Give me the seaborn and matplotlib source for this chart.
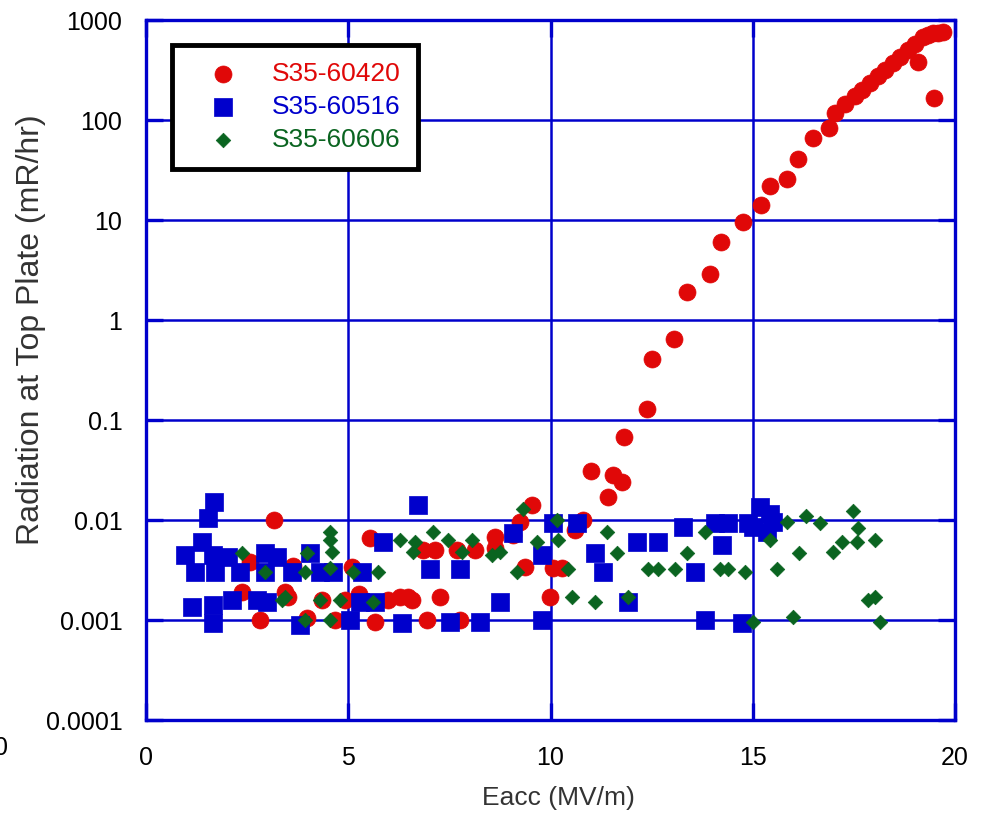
import matplotlib
matplotlib.use("Agg")
import matplotlib.pyplot as plt
from matplotlib.ticker import FixedLocator, FixedFormatter, NullLocator
import seaborn as sns
import pandas as pd

# ---- data ----
red_x = [2.57, 2.37, 2.82, 3.16, 3.44, 3.51, 3.63, 3.98, 4.35, 4.67, 4.92, 5.09, 5.27,
         5.54, 5.66, 5.98, 6.28, 6.48, 6.58, 6.95, 6.85, 7.14, 7.27, 7.69, 7.76, 8.13,
         8.63, 8.63, 9.07, 9.25, 9.37, 9.54, 9.99, 10.06, 10.28, 10.6, 10.8,
         11.00, 11.42, 11.55, 11.77, 11.82, 12.39, 12.51, 13.05, 13.37, 13.94, 14.21,
         14.76, 15.20, 15.43, 15.85, 16.12, 16.49, 16.88, 17.03, 17.28, 17.53, 17.70,
         17.90, 18.10, 18.27, 18.47, 18.64, 18.84, 19.01, 19.09, 19.21, 19.33, 19.46,
         19.48, 19.58, 19.70]
red_y = [0.0038, 0.0019, 0.001, 0.01, 0.0019, 0.0017, 0.0035, 0.00105, 0.0016, 0.001,
         0.0016, 0.0034, 0.0018, 0.0066, 0.00095, 0.0016, 0.0017, 0.0017, 0.0016, 0.001,
         0.005, 0.005, 0.0017, 0.005, 0.001, 0.005, 0.0068, 0.0052, 0.007, 0.0095,
         0.0034, 0.014, 0.0017, 0.0033, 0.0033, 0.008, 0.01,
         0.031, 0.017, 0.028, 0.024, 0.068, 0.13, 0.41, 0.65, 1.9, 2.9, 6.0,
         9.5, 14, 22, 26, 41, 66, 83, 117, 145, 174, 200,
         234, 275, 316, 372, 427, 500, 575, 380, 676, 708, 741,
         166, 741, 759]

blue_x = [0.96, 1.13, 1.21, 1.38, 1.53, 1.66, 1.66, 1.68, 1.71, 1.66, 2.03, 2.13, 2.32,
          2.74, 2.94, 2.94, 3.24, 3.00, 3.60, 3.81, 4.05, 4.30, 4.62, 5.04, 5.29, 5.34,
          5.66, 5.86, 6.33, 6.72, 7.02, 7.52, 7.76, 8.26, 8.75, 9.07, 9.79, 9.79, 10.06,
          10.66, 11.10, 11.30, 11.92, 12.14, 12.66, 13.28, 13.57, 13.82, 14.07, 14.24,
          14.39, 14.73, 14.88, 15.00, 15.18, 15.35, 15.43, 15.50]
blue_y = [0.0045, 0.00135, 0.003, 0.006, 0.0105, 0.0045, 0.0014, 0.015, 0.003, 0.00093,
          0.0043, 0.0016, 0.003, 0.0016, 0.0047, 0.003, 0.0043, 0.0015, 0.003, 0.0009,
          0.0047, 0.003, 0.003, 0.001, 0.0015, 0.003, 0.0015, 0.006, 0.00093, 0.014,
          0.0032, 0.00095, 0.0032, 0.00095, 0.0015, 0.0074, 0.0045, 0.001, 0.0093,
          0.0093, 0.0047, 0.003, 0.0015, 0.006, 0.006, 0.0085, 0.003, 0.001, 0.0093,
          0.0056, 0.0093, 0.00093, 0.0093, 0.0085, 0.0135, 0.0075, 0.0115, 0.0095]

green_x = [2.37, 2.94, 3.36, 3.44, 3.93, 3.93, 3.98, 4.30, 4.55, 4.55, 4.60, 4.55, 4.55,
           4.80, 5.12, 5.61, 5.74, 6.28, 6.60, 6.65, 7.10, 7.47, 7.81, 8.06, 8.55, 8.75,
           9.17, 9.32, 9.67, 10.16, 10.19, 10.43, 10.53, 11.10, 11.40, 11.64, 11.92,
           12.41, 12.66, 13.08, 13.37, 13.82, 14.19, 14.39, 14.81, 15.00, 15.43, 15.60,
           15.85, 16.00, 16.14, 16.32, 16.66, 16.98, 17.21, 17.48, 17.58, 17.60, 17.85,
           18.02, 18.02, 18.15]
green_y = [0.0047, 0.003, 0.0016, 0.0017, 0.003, 0.001, 0.0047, 0.0016, 0.0076, 0.0063,
           0.0048, 0.0033, 0.001, 0.0016, 0.003, 0.0015, 0.003, 0.0063, 0.0048, 0.006,
           0.0076, 0.0063, 0.0048, 0.0063, 0.0045, 0.0048, 0.003, 0.013, 0.006, 0.01,
           0.0063, 0.0032, 0.0017, 0.0015, 0.0076, 0.0047, 0.0017, 0.0032, 0.0032,
           0.0032, 0.0047, 0.0076, 0.0032, 0.0032, 0.003, 0.00095, 0.0063, 0.0032,
           0.0095, 0.00107, 0.0047, 0.011, 0.0093, 0.0048, 0.006, 0.0123, 0.006, 0.0083,
           0.0016, 0.0017, 0.0063, 0.00095]

series_names = ["S35-60420", "S35-60516", "S35-60606"]
x_ticks = [0, 5, 10, 15, 20]
y_ticks = [0.0001, 0.001, 0.01, 0.1, 1, 10, 100, 1000]
y_tick_labels = ["0.0001", "0.001", "0.01", "0.1", "1", "10", "100", "1000"]

# ---- style ----
sns.set_style("white")
plt.rcParams["font.family"] = ["Liberation Sans", "DejaVu Sans"]

RED = "#E00808"
BLUE = "#0000CC"
GREEN = "#0A6420"
GRID = "#0000CC"

fig = plt.figure(figsize=(9.85, 8.19), dpi=100)
ax = fig.add_axes([146 / 985, 1 - 720 / 819, 809 / 985, 700 / 819])

sns.scatterplot(x=red_x, y=red_y, ax=ax, marker="o", s=150, color=RED,
                edgecolor=RED, linewidth=0.5, label=series_names[0], zorder=3)
sns.scatterplot(x=blue_x, y=blue_y, ax=ax, marker="s", s=165, color=BLUE,
                edgecolor=BLUE, linewidth=0.5, label=series_names[1], zorder=4)
sns.scatterplot(x=green_x, y=green_y, ax=ax, marker="D", s=55, color=GREEN,
                edgecolor=GREEN, linewidth=0.5, label=series_names[2], zorder=5)

ax.set_yscale("log")
ax.set_xlim(0, 20)
ax.set_ylim(0.0001, 1000)
ax.xaxis.set_major_locator(FixedLocator(x_ticks))
ax.yaxis.set_major_locator(FixedLocator(y_ticks))
ax.yaxis.set_major_formatter(FixedFormatter(y_tick_labels))
ax.yaxis.set_minor_locator(NullLocator())
ax.xaxis.set_minor_locator(NullLocator())

ax.grid(True, color=GRID, linewidth=1.8, zorder=1)
ax.set_axisbelow(True)
for sp in ax.spines.values():
    sp.set_color(GRID)
    sp.set_linewidth(2.4)

ax.tick_params(axis="both", which="major", direction="in", length=12, width=2.4,
               color=GRID, labelsize=18, labelcolor="black",
               top=True, right=True, left=True, bottom=True)
ax.tick_params(axis="x", pad=19)
ax.tick_params(axis="y", pad=17)

ax.set_xlabel("Eacc (MV/m)", fontsize=19, color="#333333", labelpad=8)
ax.xaxis.set_label_coords(0.51, -0.095)
ax.set_ylabel("Radiation at Top Plate (mR/hr)", fontsize=23, color="#333333")
ax.yaxis.set_label_coords(-0.124, 0.558)

handles, labels = ax.get_legend_handles_labels()
leg = ax.legend(handles, labels, loc="upper left", bbox_to_anchor=(0.032, 0.964),
                borderaxespad=0, fontsize=19, frameon=True, fancybox=False,
                edgecolor="black", framealpha=1, handlelength=2.6, handletextpad=0.55,
                borderpad=0.65, labelspacing=0.33)
leg.get_frame().set_linewidth(3.5)
for txt, c in zip(leg.get_texts(), [RED, BLUE, GREEN]):
    txt.set_color(c)

fig.text(1 / 985, 1 - 748 / 819, "0", ha="center", va="center", fontsize=18, color="black")

fig.savefig("out.png", dpi=100)
